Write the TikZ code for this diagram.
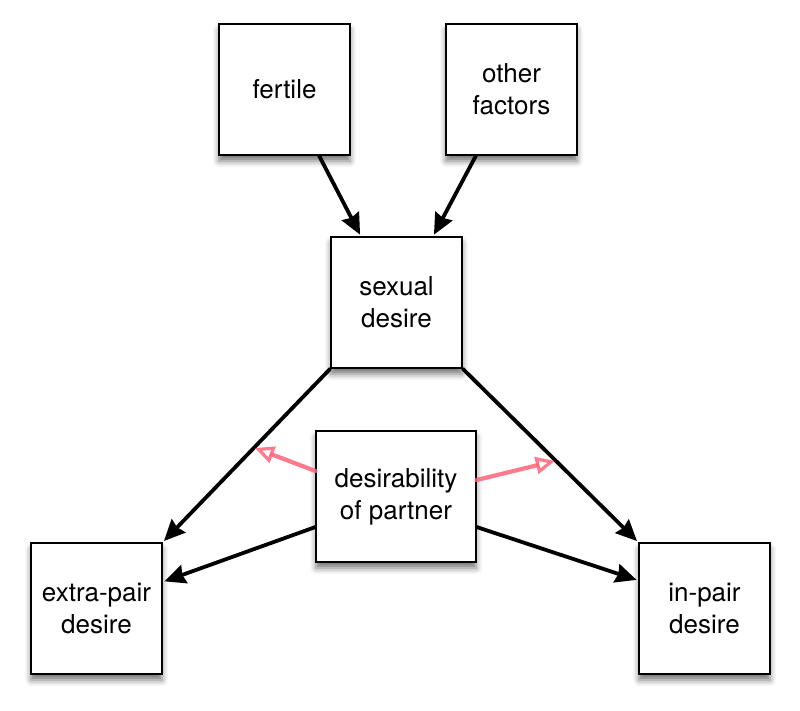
\documentclass[tikz,border=0pt]{standalone}
\usepackage{fontspec}
\setmainfont{TeX Gyre Heros}
\usetikzlibrary{arrows.meta,calc,shadows.blur}
\definecolor{modred}{RGB}{255,100,120}
\begin{document}
\begin{tikzpicture}[x=1pt,y=-1pt,
  box/.style={draw=black, line width=1.1pt, fill=white, minimum width=131pt,
    minimum height=131pt, inner sep=0pt, align=center,
    font=\fontsize{26}{32}\selectfont,
    blur shadow={shadow xshift=0pt, shadow yshift=-6pt, shadow blur radius=6pt, shadow opacity=55}},
  causal/.style={line width=3.8pt, -{Stealth[length=21pt,width=19pt,inset=2pt]}, shorten >=2pt},
  moder/.style={draw=modred, draw opacity=0.85, line width=4.2pt, line cap=round,
    -{Triangle[open,length=19pt,width=17pt,line width=3.2pt]}, shorten >=1pt}
]
\useasboundingbox (0,0) rectangle (800,710);
\node[box] (fertile) at (284.5,89.5) {fertile};
\node[box] (other) at (511.5,89.5) {other\\factors};
\node[box] (sexual) at (396.5,302.5) {sexual\\desire};
\node[box, minimum width=160pt] (desir) at (396,496.5) {desirability\\of partner};
\node[box] (extra) at (96.5,608.5) {extra-pair\\desire};
\node[box] (inpair) at (704.5,608.5) {in-pair\\desire};

\draw[causal] ($(fertile.south)+(34.5,0)$) -- ($(sexual.north)+(-35.5,0)$);
\draw[causal] ($(other.south)+(-35.5,0)$) -- ($(sexual.north)+(36.5,0)$);
\draw[causal] (sexual.south west) -- coordinate[pos=0.455] (lm) (extra.north east);
\draw[causal] (sexual.south east) -- coordinate[pos=0.53] (rm) (inpair.north west);
\draw[causal] ($(desir.west)+(0,30.5)$) -- ($(extra.east)+(0,-26.5)$);
\draw[causal] ($(desir.east)+(0,30.5)$) -- ($(inpair.west)+(0,-28)$);
\draw[moder] ($(desir.west)+(0,-25.5)$) -- (lm);
\draw[moder] ($(desir.east)+(0,-16.5)$) -- (rm);
\end{tikzpicture}
\end{document}
